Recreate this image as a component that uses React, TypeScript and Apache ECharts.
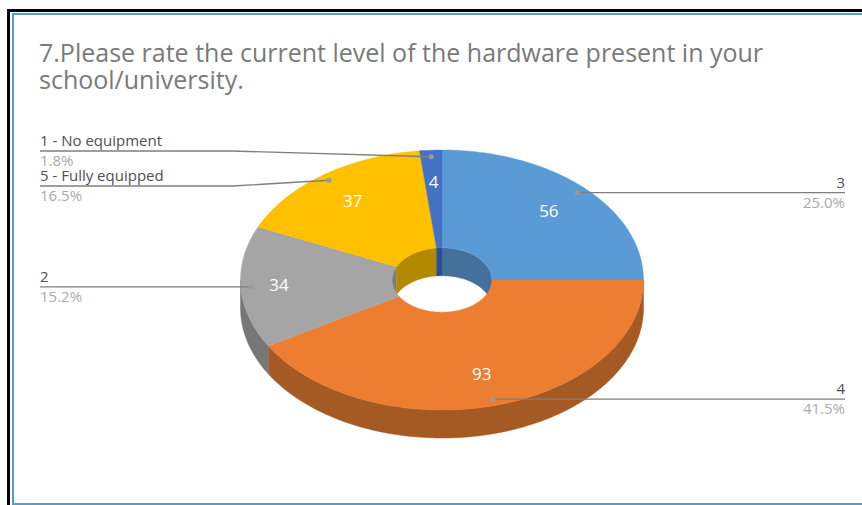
import React, { useEffect, useRef } from "react";
import * as echarts from "echarts";

const WIDTH = 862;
const HEIGHT = 505;

const titleText =
  "7.Please rate the current level of the hardware present in your\nschool/university.";

// Slices in clockwise order, starting at twelve o'clock.
const categories = ["3", "4", "2", "5 - Fully equipped", "1 - No equipment"];
const responses = [56, 93, 34, 37, 4];

const topColors = ["#5B9BD5", "#ED7D31", "#A5A5A5", "#FFC000", "#4472C4"];
const outerWallColors = ["#3F6F9B", "#A55A23", "#777777", "#B38900", "#2F5597"];
const innerWallColors = ["#44719C", "#A55A23", "#7C7C7C", "#B38900", "#2A4F8F"];

// Tilted ring geometry.
const CX = 442;
const CY = 280;
const RX = 201.5;
const RY = 130;
const DEPTH = 28;
const HOLE = 0.2475;
const LABEL_RADIUS = [0.75, 0.75, 0.81, 0.75, 0.75];
const ANCHOR_RADIUS = 0.95;

// Callout layout: text side, and the row of the label when it differs from the anchor.
const CALLOUT_LEFT = 40;
const CALLOUT_RIGHT = 845;
const calloutSide = ["right", "right", "left", "left", "left"];
const calloutRow: (number | null)[] = [null, null, null, 186, 151];
const CALLOUT_ELBOW = 232;

const total = responses.reduce((sum, v) => sum + v, 0);

const point = (deg: number, r: number, dy = 0): number[] => {
  const t = (deg * Math.PI) / 180;
  return [CX + RX * r * Math.sin(t), CY - RY * r * Math.cos(t) + dy];
};

const sweep = (from: number, to: number, r: number, dy = 0): number[][] => {
  const steps = Math.max(2, Math.ceil(Math.abs(to - from)));
  const pts: number[][] = [];
  for (let i = 0; i <= steps; i++) pts.push(point(from + ((to - from) * i) / steps, r, dy));
  return pts;
};

// Lower edge of the hole, used to clip the far wall seen through it.
const holeFloor = (x: number): number => {
  const u = Math.min(1, Math.abs(x - CX) / (RX * HOLE));
  return CY + RY * HOLE * Math.sqrt(1 - u * u);
};

const innerWall = (from: number, to: number): number[][] => {
  const upper = sweep(from, to, HOLE);
  const lower = upper.map(([x, y]) => [x, Math.min(y + DEPTH, holeFloor(x))]).reverse();
  return [...upper, ...lower];
};

// The far wall stays visible through the hole until it meets the near rim.
const HOLE_TIP = (Math.acos(-(DEPTH / 2) / (RY * HOLE)) * 180) / Math.PI;

const renderSlice = (params: any, api: any) => {
  const i = params.dataIndex;
  const value = api.value(1);
  const before = responses.slice(0, i).reduce((sum, v) => sum + v, 0);
  const start = (before / total) * 360;
  const end = ((before + value) / total) * 360;
  const mid = (start + end) / 2;
  const children: any[] = [];

  const outerFrom = Math.max(start, 90);
  const outerTo = Math.min(end, 270);
  if (outerTo > outerFrom) {
    children.push({
      type: "polygon",
      z2: 1,
      shape: {
        points: [...sweep(outerFrom, outerTo, 1), ...sweep(outerTo, outerFrom, 1, DEPTH)],
      },
      style: { fill: outerWallColors[i], stroke: outerWallColors[i], lineWidth: 0.5 },
    });
  }

  const wallRanges: number[][] = [];
  if (start < 90) wallRanges.push([start, end >= 90 ? HOLE_TIP : end]);
  if (end > 270) wallRanges.push([start <= 270 ? 360 - HOLE_TIP : start, end]);
  wallRanges.forEach(([from, to]) => {
    children.push({
      type: "polygon",
      z2: 2,
      shape: { points: innerWall(from, to) },
      style: { fill: innerWallColors[i], stroke: innerWallColors[i], lineWidth: 0.3 },
    });
  });

  children.push({
    type: "polygon",
    z2: 3,
    shape: { points: [...sweep(start, end, 1), ...sweep(end, start, HOLE)] },
    style: { fill: topColors[i], stroke: topColors[i], lineWidth: 0.4 },
  });

  const [lx, ly] = point(mid, LABEL_RADIUS[i]);
  children.push({
    type: "text",
    z2: 30,
    style: {
      x: lx,
      y: ly - 1,
      text: String(value),
      fill: "#FFFFFF",
      font: '17px "Open Sans"',
      align: "center",
      verticalAlign: "middle",
    },
  });

  const [ax, ay] = point(mid, ANCHOR_RADIUS);
  const right = calloutSide[i] === "right";
  const row = calloutRow[i] ?? ay;
  const edge = right ? CALLOUT_RIGHT : CALLOUT_LEFT;
  const linePts =
    calloutRow[i] === null
      ? [[edge, row], [ax, ay]]
      : [[edge, row], [CALLOUT_ELBOW, row], [ax, ay]];
  children.push({
    type: "polyline",
    z2: 20,
    shape: { points: linePts },
    style: { fill: "none", stroke: "#7F7F7F", lineWidth: 1.4 },
  });
  children.push({
    type: "circle",
    z2: 21,
    shape: { cx: ax, cy: ay, r: 2.6 },
    style: { fill: "#9A9A9A" },
  });
  children.push({
    type: "text",
    z2: 30,
    style: {
      x: edge,
      y: row - 11,
      text: categories[i],
      fill: "#505050",
      font: '15px "Open Sans"',
      align: right ? "right" : "left",
      verticalAlign: "middle",
    },
  });
  children.push({
    type: "text",
    z2: 30,
    style: {
      x: edge,
      y: row + 9,
      text: `${((value / total) * 100).toFixed(1)}%`,
      fill: "#ABABAB",
      font: '15px "Open Sans"',
      align: right ? "right" : "left",
      verticalAlign: "middle",
    },
  });

  return { type: "group", children };
};

export default function App() {
  const ref = useRef<HTMLDivElement>(null);

  useEffect(() => {
    const chart = echarts.init(ref.current!, null, { renderer: "svg" });
    chart.setOption({
      animation: false,
      backgroundColor: "#FFFFFF",
      title: {
        text: titleText,
        left: 34,
        top: 33,
        textStyle: {
          fontFamily: "Open Sans",
          fontSize: 25,
          fontWeight: "normal",
          color: "#7A7A7A",
          lineHeight: 27,
        },
      },
      graphic: [
        { type: "rect", shape: { x: 7, y: 9, width: 855, height: 3 }, style: { fill: "#000000" } },
        { type: "rect", shape: { x: 7, y: 9, width: 3, height: 496 }, style: { fill: "#000000" } },
        { type: "rect", shape: { x: 12, y: 13, width: 850, height: 2 }, style: { fill: "#5B9BD5" } },
        { type: "rect", shape: { x: 12, y: 13, width: 2, height: 492 }, style: { fill: "#5B9BD5" } },
        { type: "rect", shape: { x: 12, y: 503, width: 850, height: 2 }, style: { fill: "#5B9BD5" } },
      ],
      series: [
        {
          type: "custom",
          coordinateSystem: "none",
          clip: false,
          dimensions: ["category", "responses"],
          data: responses.map((v, i) => [categories[i], v]),
          renderItem: renderSlice,
        },
      ],
    });
    return () => chart.dispose();
  }, []);

  return (
    <div
      ref={ref}
      style={{ position: "fixed", left: 0, top: 0, width: WIDTH, height: HEIGHT }}
    />
  );
}
